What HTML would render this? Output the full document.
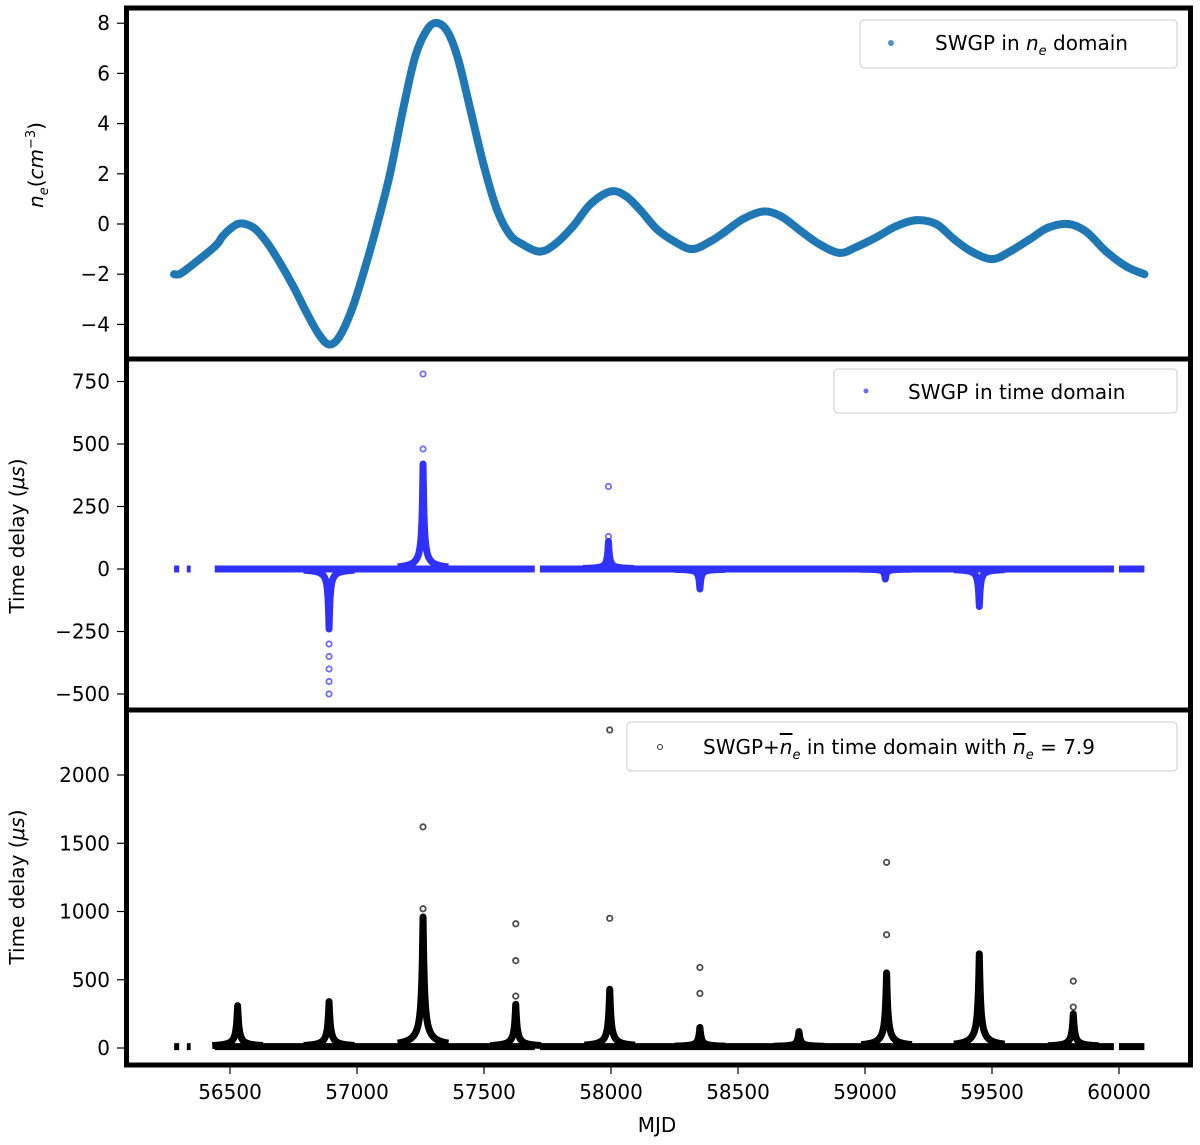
<!DOCTYPE html>
<html><head><meta charset="utf-8"><style>
body{margin:0;background:#fff;}
svg{display:block;font-family:"DejaVu Sans","Liberation Sans",sans-serif;}
</style></head><body>
<svg id="chart" width="1200" height="1145" viewBox="0 0 1200 1145"></svg>
<script>
// ---------- data ----------
const neMjd = [56280,56300,56330,56440,56470,56500,56530,56560,56600,56650,56700,56750,56800,56850,56890,56930,56980,57030,57080,57130,57180,57230,57280,57320,57360,57400,57450,57500,57550,57600,57650,57720,57780,57850,57920,58000,58060,58120,58180,58250,58320,58390,58450,58520,58600,58670,58750,58820,58900,58970,59050,59120,59200,59280,59350,59420,59500,59570,59650,59720,59800,59870,59950,60030,60100];
const neVal = [-2,-2,-1.8,-0.9,-0.5,-0.2,0,0,-0.2,-0.8,-1.6,-2.5,-3.5,-4.4,-4.8,-4.5,-3.4,-1.8,0,2,4.5,6.7,7.8,8,7.6,6.5,4.4,2.3,0.6,-0.4,-0.8,-1.1,-0.8,-0.1,0.8,1.3,1.1,0.5,-0.2,-0.7,-1.0,-0.7,-0.3,0.2,0.5,0.3,-0.3,-0.8,-1.15,-0.9,-0.5,-0.1,0.15,0,-0.6,-1.1,-1.4,-1.1,-0.6,-0.15,0,-0.3,-1.1,-1.7,-2];
const tdSegments = [[56280,56300],[56330,56345],[56440,57700],[57720,59980],[60000,60100]];
// panel 2 spikes
const s2Mjd = [56890,57260,57990,58350,59080,59450];
const s2Dense = [-240,420,110,-80,-40,-150];
const s2Outliers = [[-300,-350,-400,-450,-500],[480,780],[330,130],[],[],[]];
// panel 3 spikes
const s3Mjd = [56530,56890,57260,57625,57995,58350,58740,59085,59450,59820];
const s3Dense = [310,340,960,320,430,150,120,550,690,250];
const s3Outliers = [[200,150],[],[1020,1620],[380,640,910],[950,2330],[590,400],[],[830,1360],[],[490,300]];
const ticksX = [56500,57000,57500,58000,58500,59000,59500,60000];
const ticks1 = [8,6,4,2,0,-2,-4];
const ticks2 = [750,500,250,0,-250,-500];
const ticks3 = [2000,1500,1000,500,0];

// ---------- axes ----------
const X = m => 230 + (m - 56500) * 0.254;
const Y1 = v => 224 - 25.1 * v;
const Y2 = v => 569 - 0.25 * v;
const Y3 = v => 1048 - 0.1365 * v;
const svg = document.getElementById('chart');
const NS = 'http://www.w3.org/2000/svg';
function mk(tag, attrs, parent){const e=document.createElementNS(NS,tag);for(const k in attrs)e.setAttribute(k,attrs[k]);(parent||svg).appendChild(e);return e;}

// scatter ne (smooth catmull-rom through data points)
const g1 = mk('g',{});


const pts = neMjd.map((m,i)=>[X(m),Y1(neVal[i])]);
let d='M'+pts[0][0]+','+pts[0][1];
for(let i=0;i<pts.length-1;i++){
  const p0=pts[Math.max(0,i-1)],p1=pts[i],p2=pts[i+1],p3=pts[Math.min(pts.length-1,i+2)];
  const c1=[p1[0]+(p2[0]-p0[0])/6,p1[1]+(p2[1]-p0[1])/6];
  const c2=[p2[0]-(p3[0]-p1[0])/6,p2[1]-(p3[1]-p1[1])/6];
  d+='C'+c1[0]+','+c1[1]+' '+c2[0]+','+c2[1]+' '+p2[0]+','+p2[1];
}
const ln = mk('path',{d:d,stroke:'#1f77b4','stroke-width':8,fill:'none','stroke-linejoin':'round','stroke-linecap':'round'},g1);


neMjd.forEach((m,i)=>{
  const c=mk('circle',{cx:X(m),cy:Y1(neVal[i]),r:4,fill:'#1f77b4'},g1);
  
  
});

function spikes(Y, mjds, dense, outl, color, base, width){
  const g = mk('g',{});
  
  
  tdSegments.forEach(s=>{
    const l=mk('line',{x1:X(s[0]),x2:X(s[1]),y1:Y(base),y2:Y(base),stroke:color,'stroke-width':7},g);
    
    
  });
  mjds.forEach((m,i)=>{
    let p='';
    for(let k=-100;k<=100;k+=1){
      const v = base + (dense[i]-base)/(1+Math.pow(Math.abs(k)/width,1.2)*2);
      p+=(k===-100?'M':'L')+X(m+k)+','+Y(v);
    }
    const sp=mk('path',{d:p,stroke:color,'stroke-width':7,fill:'none','stroke-linejoin':'round'},g);
    
    
    outl[i].forEach(v=>{
      const c=mk('circle',{cx:X(m),cy:Y(v),r:2.7,fill:'none',stroke:color,'stroke-width':1.8,opacity:0.7},g);
      
      
    });
  });
}
spikes(Y2,s2Mjd,s2Dense,s2Outliers,'#3030ff',0,7);
spikes(Y3,s3Mjd,s3Dense,s3Outliers,'#000',10,9);

// ticks
function yticks(vals,Y,name){
  vals.forEach(v=>{
    const l=mk('line',{x1:117,x2:124,y1:Y(v),y2:Y(v),stroke:'#000','stroke-width':1.2});
    
    
    const t=mk('text',{x:110,y:Y(v)+7,'text-anchor':'end','font-size':20});
    t.textContent=String(v).replace('-','\u2212');
    
    
  });
}
yticks(ticks1,Y1,'y1');yticks(ticks2,Y2,'y2');yticks(ticks3,Y3,'y3');
ticksX.forEach(v=>{
  const l=mk('line',{x1:X(v),x2:X(v),y1:1067,y2:1074,stroke:'#000','stroke-width':1.2});
  
  
  const t=mk('text',{x:X(v),y:1099,'text-anchor':'middle','font-size':20});
  t.textContent=v;
  
  
});
</script>
<svg width="1200" height="1145" style="position:absolute;left:0;top:0">
<g fill="none" stroke="#000" stroke-width="5">
<rect x="126.5" y="8" width="1064" height="351"/>
<rect x="126.5" y="359" width="1064" height="351"/>
<rect x="126.5" y="710" width="1064" height="355"/>
</g>
<text x="60" y="182" font-size="20" text-anchor="middle" transform="rotate(-90 43 182)" style="font-family:'DejaVu Sans',sans-serif"><tspan font-style="italic">n</tspan><tspan font-size="13" dy="5" font-style="italic">e</tspan><tspan dy="-5">(</tspan><tspan font-style="italic">cm</tspan><tspan font-size="13" dy="-8">−3</tspan><tspan dy="8">)</tspan></text>
<text x="24" y="536" font-size="20" text-anchor="middle" transform="rotate(-90 24 536)" style="font-family:'DejaVu Sans',sans-serif">Time delay (<tspan font-style="italic">μs</tspan>)</text>
<text x="24" y="887" font-size="20" text-anchor="middle" transform="rotate(-90 24 887)" style="font-family:'DejaVu Sans',sans-serif">Time delay (<tspan font-style="italic">μs</tspan>)</text>
<text x="657" y="1132" font-size="20" text-anchor="middle" style="font-family:'DejaVu Sans',sans-serif">MJD</text>
<g style="font-family:'DejaVu Sans',sans-serif">
<rect x="860" y="20" width="317" height="48" rx="4" fill="#fff" stroke="#ccc"/>
<circle cx="891" cy="43" r="3" fill="#1f77b4" opacity="0.8"/>
<text x="935" y="50" font-size="20">SWGP in <tspan font-style="italic">n</tspan><tspan font-style="italic" font-size="13" dy="5">e</tspan><tspan dy="-5"> domain</tspan></text>
</g>
<g style="font-family:'DejaVu Sans',sans-serif">
<rect x="834" y="369" width="343" height="44" rx="4" fill="#fff" stroke="#ccc"/>
<circle cx="866" cy="391" r="2.5" fill="#3030ff" opacity="0.7"/>
<text x="908" y="399" font-size="20">SWGP in time domain</text>
</g>
<g style="font-family:'DejaVu Sans',sans-serif">
<rect x="627" y="722" width="550" height="49" rx="4" fill="#fff" stroke="#ccc"/>
<circle cx="660" cy="747" r="2.5" fill="none" stroke="#333"/>
<text x="703" y="754" font-size="20">SWGP+<tspan font-style="italic" text-decoration="overline">n</tspan><tspan font-style="italic" font-size="13" dy="5">e</tspan><tspan dy="-5"> in time domain with </tspan><tspan font-style="italic" text-decoration="overline">n</tspan><tspan font-style="italic" font-size="13" dy="5">e</tspan><tspan dy="-5"> = 7.9</tspan></text>
</g>
</svg>
</body></html>
